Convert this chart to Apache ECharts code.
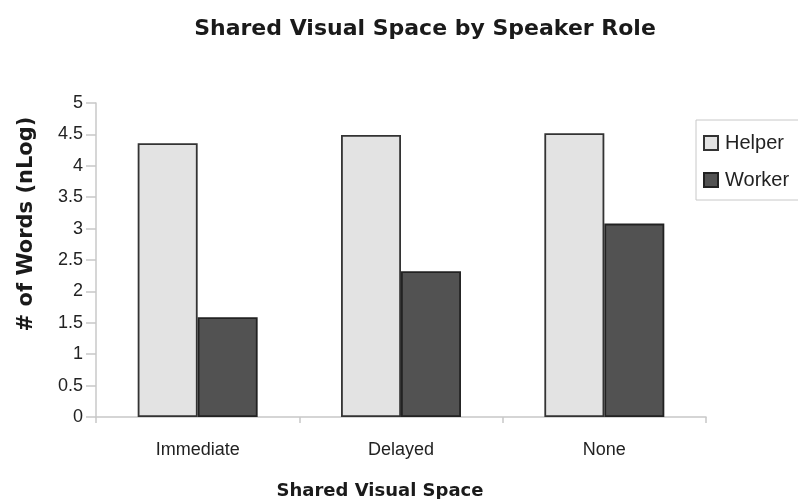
<!DOCTYPE html>
<html>
<head>
<meta charset="utf-8">
<script src="https://cdn.jsdelivr.net/npm/echarts@6/dist/echarts.min.js"></script>
<style>html,body{margin:0;padding:0;background:#fff;}#c{width:798px;height:499px;}</style>
</head>
<body>
<div id="c"></div>
<script>
var categories = ['Immediate', 'Delayed', 'None'];
var helperValues = [4.36, 4.49, 4.52];
var workerValues = [1.59, 2.32, 3.08];
var yTicks = { min: 0, max: 5, interval: 0.5 };

var FONT = '"Liberation Sans", Arial, sans-serif';
var BOLD = '"DejaVu Sans", "Liberation Sans", Arial, sans-serif';
var chart = echarts.init(document.getElementById('c'), null, { renderer: 'canvas' });
chart.setOption({
  animation: false,
  backgroundColor: '#ffffff',
  title: {
    text: 'Shared Visual Space by Speaker Role',
    left: 420, top: 13, textAlign: 'center',
    textStyle: { fontFamily: BOLD, fontSize: 22, fontWeight: 'bold', color: '#1a1a1a' }
  },
  legend: {
    orient: 'vertical', left: 696, top: 120,
    padding: [13, 40, 10, 7],
    itemWidth: 14, itemHeight: 14, itemGap: 17,
    icon: 'rect',
    borderColor: '#c8c8c8', borderWidth: 1,
    textStyle: { fontFamily: FONT, fontSize: 20, color: '#222', padding: [0, 0, 0, 2] },
    data: ['Helper', 'Worker']
  },
  graphic: [
    { type: 'text', x: 27, y: 224, rotation: Math.PI / 2,
      style: { text: '# of Words (nLog)', fontFamily: BOLD, fontSize: 21, fontWeight: 'bold', fill: '#1a1a1a', align: 'center', verticalAlign: 'middle' } },
    { type: 'text', x: 380, y: 491,
      style: { text: 'Shared Visual Space', fontFamily: BOLD, fontSize: 18, fontWeight: 'bold', fill: '#1a1a1a', align: 'center', verticalAlign: 'middle' } }
  ],
  grid: { left: 96, right: 92, top: 103, bottom: 82, containLabel: false },
  xAxis: {
    type: 'category', data: categories,
    axisLine: { lineStyle: { color: '#c8c8c8', width: 1.5 } },
    axisTick: { show: true, length: 6, lineStyle: { color: '#c8c8c8', width: 1.5 } },
    axisLabel: { margin: 24, fontFamily: FONT, fontSize: 18, color: '#222' },
    splitLine: { show: false }
  },
  yAxis: {
    type: 'value', min: yTicks.min, max: yTicks.max, interval: yTicks.interval,
    axisLine: { show: true, lineStyle: { color: '#c8c8c8', width: 1.5 } },
    axisTick: { show: true, inside: false, length: 10, lineStyle: { color: '#c8c8c8', width: 1.5 } },
    axisLabel: { margin: 13, fontFamily: FONT, fontSize: 18, color: '#222' },
    splitLine: { show: false }
  },
  series: [
    { name: 'Helper', type: 'bar', data: helperValues, barGap: '0%', barCategoryGap: '41%',
      itemStyle: { color: '#e3e3e3', borderColor: '#333333', borderWidth: 1.8 } },
    { name: 'Worker', type: 'bar', data: workerValues, barGap: '0%', barCategoryGap: '41%',
      itemStyle: { color: '#525252', borderColor: '#222222', borderWidth: 1.8 } }
  ]
});
</script>
</body>
</html>
